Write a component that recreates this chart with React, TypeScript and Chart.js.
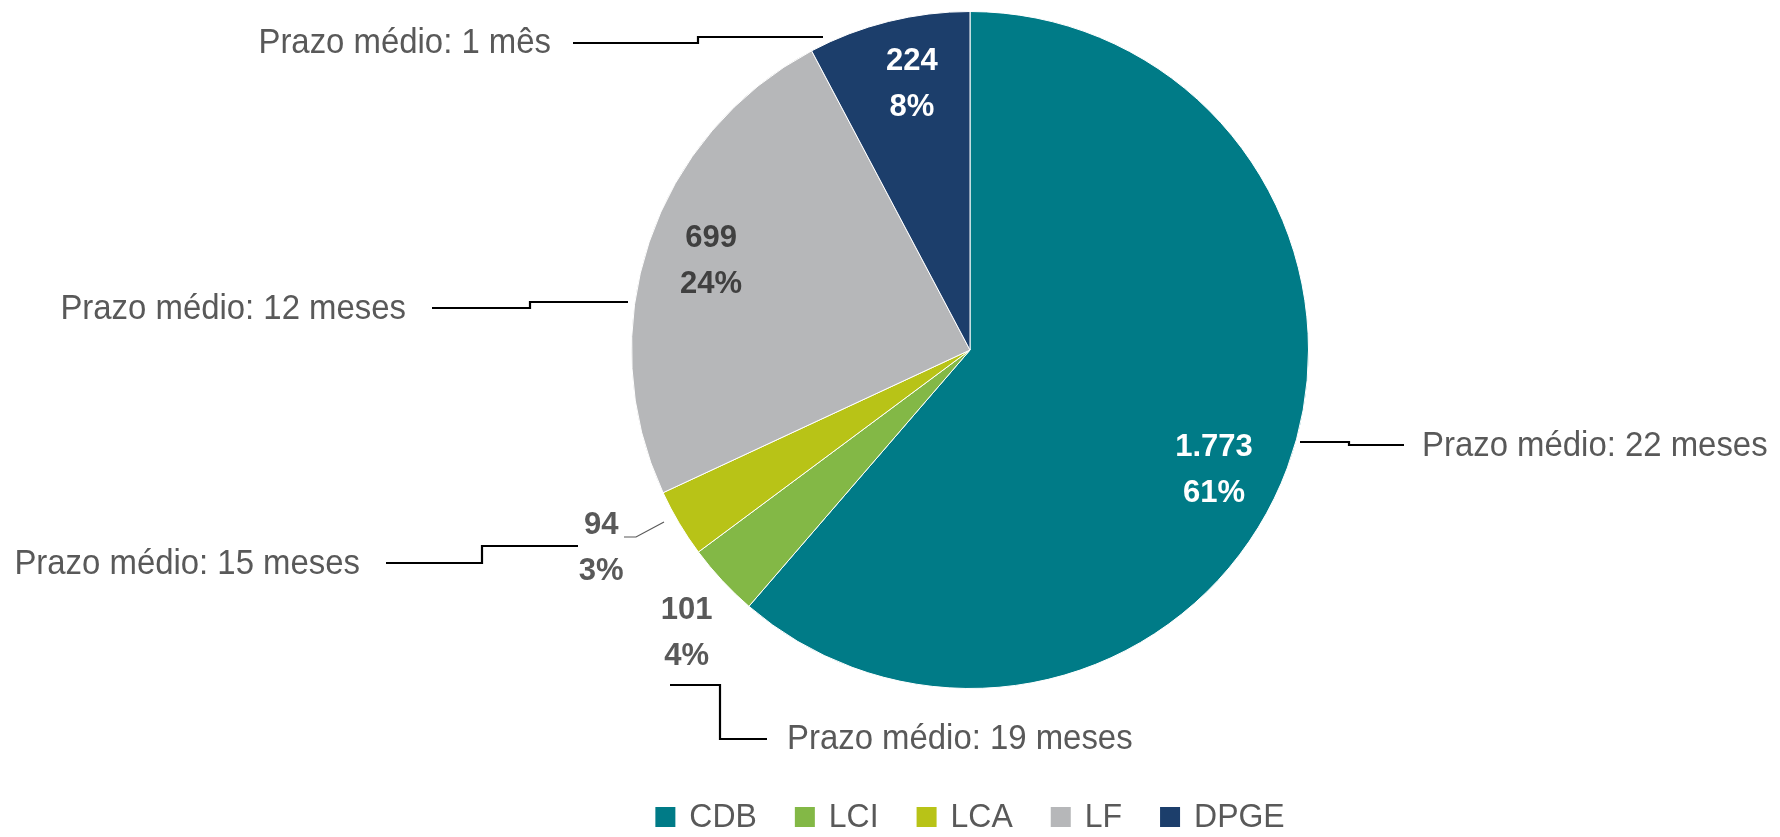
import React, { useEffect, useRef } from "react";
import { Chart, registerables } from "chart.js";

Chart.register(...registerables);

// ---- data ----
const categories: string[] = ["CDB", "LCI", "LCA", "LF", "DPGE"];
const values: number[] = [1773, 101, 94, 699, 224];
const termNotes: string[] = [
  "Prazo médio: 22 meses",
  "Prazo médio: 19 meses",
  "Prazo médio: 15 meses",
  "Prazo médio: 12 meses",
  "Prazo médio: 1 mês",
];

// ---- styles ----
const sliceColors = ["#007B87", "#83B846", "#B8C317", "#B6B7B9", "#1C3E6B"];
const labelColors = ["#FFFFFF", "#595959", "#595959", "#404040", "#FFFFFF"];
const FONT = "'Liberation Sans', Arial, sans-serif";
const W = 1780;
const H = 837;
const CONDENSE = 0.94;

// label placement: radius factor along mid-angle + pixel nudge
const labelPlacement = [
  { rf: 0.81, dx: -13, dy: 25 },
  { rf: 1.2, dx: 14, dy: 7 },
  { rf: 1.22, dx: -14, dy: -13 },
  { rf: 0.81, dx: 1, dy: -1 },
  { rf: 0.81, dx: 8, dy: 0 },
];

// annotation layout relative to pie centre (px)
const noteLayout = [
  { tx: 452, ty: 96, align: "left", path: [[330, 92], [379, 92], [379, 95], [434, 95]] },
  { tx: -183, ty: 389, align: "left", path: [[-300, 335], [-250, 335], [-250, 389], [-203, 389]] },
  { tx: -610, ty: 214, align: "right", path: [[-584, 213], [-488, 213], [-488, 196], [-392, 196]] },
  { tx: -564, ty: -41, align: "right", path: [[-538, -42], [-440, -42], [-440, -48], [-342, -48]] },
  { tx: -419, ty: -307, align: "right", path: [[-397, -307], [-272, -307], [-272, -313], [-147, -313]] },
];
const smallLeader = { index: 2, path: [[-346, 187], [-334, 187], [-306, 172]] };

function fmtThousands(v: number): string {
  const s = String(Math.round(v));
  return s.replace(/\B(?=(\d{3})+(?!\d))/g, ".");
}

function roundedPercents(vals: number[]): number[] {
  const total = vals.reduce((a, b) => a + b, 0);
  const raw = vals.map((v) => (v / total) * 100);
  const floors = raw.map((r) => Math.floor(r));
  let rest = 100 - floors.reduce((a, b) => a + b, 0);
  const order = raw
    .map((r, i) => ({ i, rem: r - Math.floor(r) }))
    .sort((a, b) => b.rem - a.rem);
  for (let k = 0; k < order.length && rest > 0; k++, rest--) floors[order[k].i] += 1;
  return floors;
}

function drawText(ctx: CanvasRenderingContext2D, text: string, x: number, y: number, align: CanvasTextAlign, sx: number) {
  ctx.save();
  ctx.translate(x, y);
  ctx.scale(sx, 1);
  ctx.textAlign = align;
  ctx.fillText(text, 0, 0);
  ctx.restore();
}

const overlayPlugin = {
  id: "overlay",
  afterDatasetsDraw(chart: any) {
    const ctx: CanvasRenderingContext2D = chart.ctx;
    const meta = chart.getDatasetMeta(0);
    const first: any = meta.data[0];
    const cx = first.x;
    const cy = first.y;
    const R = first.outerRadius;
    const pcts = roundedPercents(values);

    ctx.save();
    // leader lines
    ctx.strokeStyle = "#000000";
    ctx.lineWidth = 2.2;
    ctx.lineJoin = "miter";
    noteLayout.forEach((n) => {
      ctx.beginPath();
      n.path.forEach((p, k) => {
        const x = cx + p[0];
        const y = cy + p[1];
        if (k === 0) ctx.moveTo(x, y);
        else ctx.lineTo(x, y);
      });
      ctx.stroke();
    });
    ctx.strokeStyle = "#595959";
    ctx.lineWidth = 1.2;
    ctx.beginPath();
    smallLeader.path.forEach((p, k) => {
      if (k === 0) ctx.moveTo(cx + p[0], cy + p[1]);
      else ctx.lineTo(cx + p[0], cy + p[1]);
    });
    ctx.stroke();

    // annotation texts
    ctx.font = `35px ${FONT}`;
    ctx.fillStyle = "#595959";
    ctx.textBaseline = "middle";
    noteLayout.forEach((n, i) => {
      drawText(ctx, termNotes[i], cx + n.tx, cy + n.ty, n.align as CanvasTextAlign, CONDENSE);
    });

    // data labels
    ctx.font = `bold 32px ${FONT}`;
    meta.data.forEach((el: any, i: number) => {
      const mid = (el.startAngle + el.endAngle) / 2;
      const p = labelPlacement[i];
      const x = cx + Math.cos(mid) * R * p.rf + p.dx;
      const y = cy + Math.sin(mid) * R * p.rf + p.dy;
      ctx.fillStyle = labelColors[i];
      drawText(ctx, fmtThousands(values[i]), x, y - 23, "center", 0.97);
      drawText(ctx, `${pcts[i]}%`, x, y + 23, "center", 0.97);
    });

    // legend
    ctx.font = `34px ${FONT}`;
    const box = 20;
    const gap = 14;
    const itemGap = 38;
    const widths = categories.map((c) => ctx.measureText(c).width * CONDENSE);
    const total = widths.reduce((a, b) => a + b, 0) + categories.length * (box + gap) + (categories.length - 1) * itemGap;
    let x = cx - total / 2;
    const ly = 817;
    categories.forEach((c, i) => {
      ctx.fillStyle = sliceColors[i];
      ctx.fillRect(x, ly - box / 2, box, box);
      x += box + gap;
      ctx.fillStyle = "#595959";
      drawText(ctx, c, x, ly + 1, "left", CONDENSE);
      x += widths[i] + itemGap;
    });
    ctx.restore();
  },
};

export default function App() {
  const ref = useRef<HTMLCanvasElement | null>(null);
  useEffect(() => {
    document.body.style.margin = "0";
    const canvas = ref.current;
    if (!canvas) return;
    const chart = new Chart(canvas, {
      type: "pie",
      data: {
        labels: categories,
        datasets: [
          {
            data: values,
            backgroundColor: sliceColors,
            borderColor: "#FFFFFF",
            borderWidth: 1,
          },
        ],
      },
      options: {
        responsive: false,
        maintainAspectRatio: false,
        animation: false,
        events: [],
        layout: { padding: { top: 11, bottom: 148, left: 160, right: 0 } },
        plugins: {
          legend: { display: false },
          tooltip: { enabled: false },
        },
      },
      plugins: [overlayPlugin],
    });
    return () => chart.destroy();
  }, []);
  return (
    <div style={{ width: W, height: H, background: "#FFFFFF" }}>
      <canvas ref={ref} width={W} height={H} style={{ display: "block" }} />
    </div>
  );
}
